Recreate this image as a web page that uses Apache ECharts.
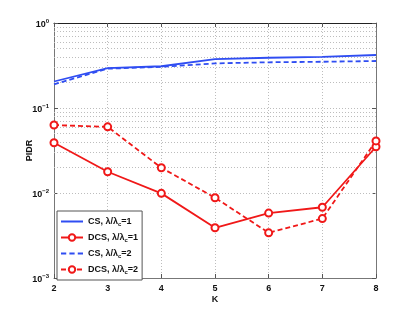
<!DOCTYPE html>
<html><head><meta charset="utf-8">
<script src="https://cdn.jsdelivr.net/npm/echarts@6/dist/echarts.min.js"></script>
<style>html,body{margin:0;padding:0;background:#fff}#c{width:415px;height:314px}</style>
</head><body><div id="c"></div>
<script>
var K = [2, 3, 4, 5, 6, 7, 8];
var csL1  = [0.205, 0.295, 0.31, 0.375, 0.39, 0.40, 0.42];
var dcsL1 = [0.039, 0.0178, 0.0099, 0.0039, 0.0058, 0.0068, 0.035];
var csL2  = [0.19, 0.29, 0.305, 0.335, 0.345, 0.35, 0.357];
var dcsL2 = [0.063, 0.060, 0.0198, 0.0088, 0.0034, 0.0050, 0.041];
var seriesNames = ['CS, λ/λc=1', 'DCS, λ/λc=1', 'CS, λ/λc=2', 'DCS, λ/λc=2'];
var legendParts = [['CS, λ/λ','c','=1'],['DCS, λ/λ','c','=1'],['CS, λ/λ','c','=2'],['DCS, λ/λ','c','=2']];

function pairs(v){ return K.map(function(k,i){ return [k, v[i]]; }); }
var minor = [];
[0.001,0.01,0.1].forEach(function(d){ for (var m=2;m<=9;m++) minor.push({yAxis: +(d*m).toPrecision(3)}); });

var BLUE = '#2f4df2', RED = '#f01818';
var SOLID_ICON = 'path://M0,0L22,0L22,2L0,2Z';
var DASH_ICON = 'path://M0,0L5,0L5,2L0,2ZM8,0L13,0L13,2L8,2ZM16,0L21,0L21,2L16,2Z';
var font = 'Liberation Sans, Arial, Helvetica, sans-serif';
var chart = echarts.init(document.getElementById('c'), null, {renderer:'canvas'});
function gridLine(){ return {show:true, lineStyle:{type:[1,2], color:'#bdbdbd', width:1}}; }
chart.setOption({
  animation:false,
  textStyle:{fontFamily:font},
  grid:{left:54, right:39, top:23, bottom:36},
  xAxis:[{
    type:'value', min:2, max:8, interval:1,
    name:'K', nameLocation:'middle', nameGap:17, nameMoveOverlap:false,
    nameTextStyle:{fontFamily:font, fontWeight:'bold', fontSize:9, color:'#111'},
    axisLine:{show:true, onZero:false, lineStyle:{color:'#777', width:1}},
    axisTick:{show:true, inside:true, length:4, lineStyle:{color:'#555'}},
    axisLabel:{fontFamily:font, fontWeight:'bold', fontSize:9, color:'#111', margin:6},
    splitLine:gridLine()
  },{
    type:'value', min:2, max:8, interval:1, position:'top',
    axisLine:{show:true, onZero:false, lineStyle:{color:'#222', width:1}},
    axisTick:{show:true, inside:true, length:4, lineStyle:{color:'#555'}},
    axisLabel:{show:false}, splitLine:{show:false}
  }],
  yAxis:[{
    type:'log', logBase:10, min:0.001, max:1,
    name:'PIDR', nameLocation:'middle', nameGap:20, nameMoveOverlap:false,
    nameTextStyle:{fontFamily:font, fontWeight:'bold', fontSize:9, color:'#111'},
    axisLine:{show:true, onZero:false, lineStyle:{color:'#777', width:1}},
    axisTick:{show:true, inside:true, length:4, lineStyle:{color:'#555'}},
    axisLabel:{
      margin:5,
      formatter:function(v){ var e = Math.round(Math.log10(v)); return '{b|10}{s|' + (e===0?'0':'\u2212'+(-e)) + '}'; },
      rich:{ b:{fontFamily:font, fontWeight:'bold', fontSize:9, color:'#111', padding:[4,0,0,0]},
             s:{fontFamily:font, fontWeight:'bold', fontSize:6, color:'#111', padding:[0,0,4,0]} }
    },
    splitLine:gridLine()
  },{
    type:'log', logBase:10, min:0.001, max:1, position:'right',
    axisLine:{show:true, onZero:false, lineStyle:{color:'#777', width:1}},
    axisTick:{show:true, inside:true, length:4, lineStyle:{color:'#555'}},
    axisLabel:{show:false}, splitLine:{show:false}
  }],
  legend:{
    orient:'vertical', left:57, top:211,
    backgroundColor:'#fff', borderColor:'#555', borderWidth:1,
    padding:[6,4,5,3], itemGap:6, itemWidth:22, itemHeight:8,
    data:[
      {name:seriesNames[0], icon:SOLID_ICON},
      {name:seriesNames[1]},
      {name:seriesNames[2], icon:DASH_ICON},
      {name:seriesNames[3]}
    ],
    formatter:function(n){ var p = legendParts[seriesNames.indexOf(n)]; return '{t|'+p[0]+'}{c|'+p[1]+'}{t|'+p[2]+'}'; },
    textStyle:{ rich:{
      t:{fontFamily:font, fontWeight:'bold', fontSize:9, color:'#111'},
      c:{fontFamily:font, fontWeight:'bold', fontSize:6, color:'#111', padding:[5,0,0,0]}
    }}
  },
  series:[
    {name:seriesNames[0], type:'line', data:pairs(csL1), symbol:'none', color:BLUE,
     lineStyle:{width:1.8, color:BLUE}, z:5,
     markLine:{silent:true, symbol:'none', label:{show:false}, animation:false,
       lineStyle:{type:[1,2], color:'#bdbdbd', width:1}, data:minor}},
    {name:seriesNames[1], type:'line', data:pairs(dcsL1), symbol:'emptyCircle', symbolSize:7, color:RED,
     itemStyle:{color:RED, borderColor:RED, borderWidth:1.5}, lineStyle:{width:1.8, color:RED}, z:5},
    {name:seriesNames[2], type:'line', data:pairs(csL2), symbol:'none', color:BLUE,
     lineStyle:{width:1.8, color:BLUE, type:[5,3]}, z:5},
    {name:seriesNames[3], type:'line', data:pairs(dcsL2), symbol:'emptyCircle', symbolSize:7, color:RED,
     itemStyle:{color:RED, borderColor:RED, borderWidth:1.5}, lineStyle:{width:1.8, color:RED, type:[5,3]}, z:5}
  ]
});
</script></body></html>
